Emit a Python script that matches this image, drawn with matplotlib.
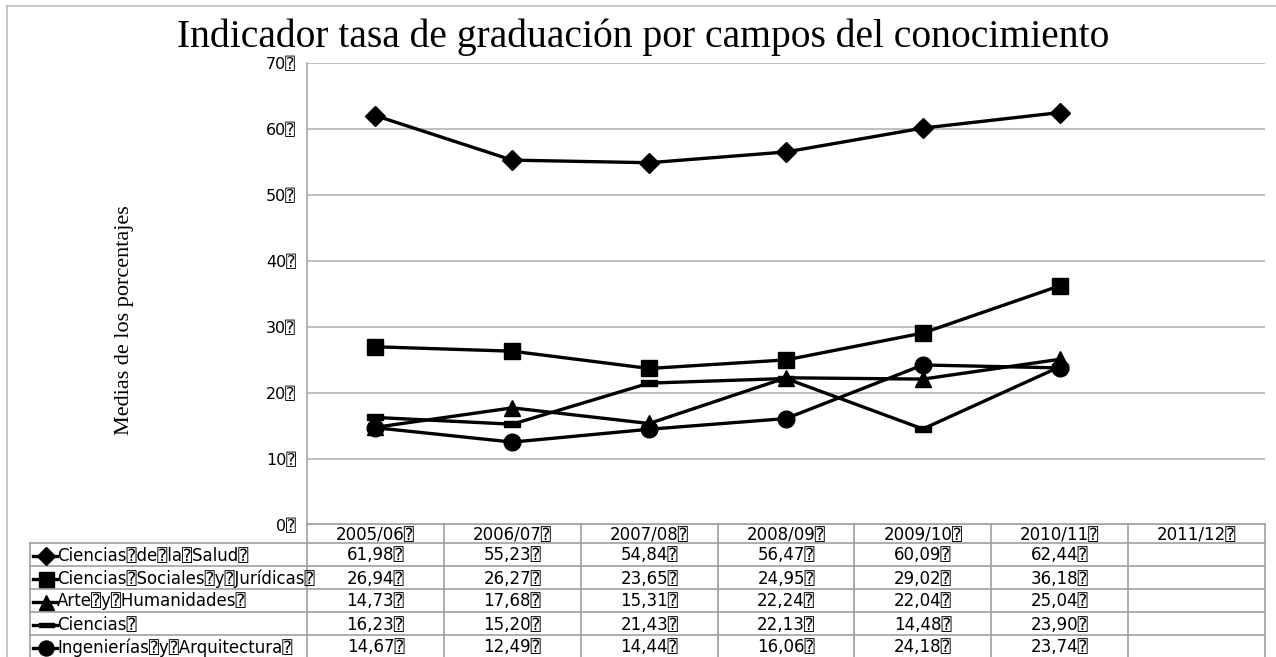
import numpy as np
import matplotlib
matplotlib.use("Agg")
import matplotlib.pyplot as plt
from matplotlib.lines import Line2D

W, H = 1276, 657
B = "\u2370"
SANS = ["DejaVu Sans", "DejaVu Sans Mono", "Noto Sans", "Noto Sans CJK SC"]

categories = ["2005/06", "2006/07", "2007/08", "2008/09", "2009/10", "2010/11", "2011/12"]
series_names = ["Ciencias de la Salud", "Ciencias Sociales y Jurídicas",
                "Arte y Humanidades", "Ciencias", "Ingenierías y Arquitectura"]
salud = [61.98, 55.23, 54.84, 56.47, 60.09, 62.44, np.nan]
sociales = [26.94, 26.27, 23.65, 24.95, 29.02, 36.18, np.nan]
arte = [14.73, 17.68, 15.31, 22.24, 22.04, 25.04, np.nan]
ciencias = [16.23, 15.20, 21.43, 22.13, 14.48, 23.90, np.nan]
ingenierias = [14.67, 12.49, 14.44, 16.06, 24.18, 23.74, np.nan]
yticks = [0, 10, 20, 30, 40, 50, 60, 70]

series = [salud, sociales, arte, ciencias, ingenierias]
dash = [(-1, -0.32), (1, -0.32), (1, 0.32), (-1, 0.32), (-1, -0.32)]
markers = [("D", 10), ("s", 12), ("^", 12), (dash, 12), ("o", 12)]

fig = plt.figure(figsize=(W / 100, H / 100), dpi=100)

def fx(px):
    return px / W

def fy(py):
    return 1 - py / H

ax_l, ax_r, ax_t, ax_b = 307, 1265, 62.7, 524.5
ax = fig.add_axes([fx(ax_l), fy(ax_b), fx(ax_r) - fx(ax_l), fy(ax_t) - fy(ax_b)])
ax.set_xlim(0, len(categories))
ax.set_ylim(0, 70)
ax.set_yticks(yticks)
ax.set_yticklabels([f"{t}{B}" for t in yticks], fontsize=11.5, family=SANS)
ax.tick_params(axis="y", length=0, pad=8)
ax.set_xticks([])
for s in ["top", "right", "bottom"]:
    ax.spines[s].set_visible(False)
ax.spines["left"].set_color("#a8a8a8")
ax.spines["left"].set_linewidth(1.2)
ax.yaxis.grid(True, color="#b4b4b4", linewidth=1.2)
ax.set_axisbelow(True)

x = np.arange(len(categories)) + 0.5
for vals, (m, ms) in zip(series, markers):
    ax.plot(x, vals, color="black", linewidth=2.4, marker=m, markersize=ms,
            markerfacecolor="black", markeredgecolor="black", clip_on=False)

# Title and y label
fig.text(fx(643), fy(37), "Indicador tasa de graduación por campos del conocimiento",
         ha="center", va="center", fontsize=28.5, family="Liberation Serif")
fig.text(fx(125), fy(320), "Medias de los porcentajes", rotation=90,
         ha="center", va="center", fontsize=16, family="Liberation Serif")

# Outer frame
fc = "#bcbcbc"
fig.add_artist(Line2D([fx(7), 1], [fy(6), fy(6)], color=fc, lw=1.2))
fig.add_artist(Line2D([fx(7), fx(7)], [fy(6), 0], color=fc, lw=1.2))

# Data table
tc = "#a0a0a0"
ncol = len(categories)
colw = (ax_r - ax_l) / ncol
col_edges = [ax_l + i * colw for i in range(ncol + 1)]
row_edges = [524, 543, 566, 589, 612, 635, 658]
lab_l = 30

fig.add_artist(Line2D([fx(ax_l), fx(ax_r)], [fy(row_edges[0])] * 2, color=tc, lw=1.2))
for ry in row_edges[1:]:
    fig.add_artist(Line2D([fx(lab_l), fx(ax_r)], [fy(ry)] * 2, color=tc, lw=1.2))
for cx in col_edges:
    fig.add_artist(Line2D([fx(cx)] * 2, [fy(row_edges[0]), 0], color=tc, lw=1.2))
fig.add_artist(Line2D([fx(lab_l)] * 2, [fy(row_edges[1]), 0], color=tc, lw=1.2))

for i, c in enumerate(categories):
    cxm = (col_edges[i] + col_edges[i + 1]) / 2
    fig.text(fx(cxm), fy((row_edges[0] + row_edges[1]) / 2 + 2), c + B,
             ha="center", va="center", fontsize=12, family=SANS)

for r, (name, vals, (m, ms)) in enumerate(zip(series_names, series, markers)):
    cy = (row_edges[r + 1] + row_edges[r + 2]) / 2 + 1
    fig.add_artist(Line2D([fx(33), fx(57)], [fy(cy)] * 2, color="black", lw=2.4))
    fig.add_artist(Line2D([fx(46)], [fy(cy)], marker=m, markersize=ms * 0.9,
                          color="black", markerfacecolor="black"))
    fig.text(fx(57), fy(cy), name.replace(" ", B) + B, ha="left", va="center",
             fontsize=12, family=SANS)
    for i, v in enumerate(vals):
        if np.isnan(v):
            continue
        cxm = (col_edges[i] + col_edges[i + 1]) / 2
        fig.text(fx(cxm), fy(cy), f"{v:.2f}".replace(".", ",") + B,
                 ha="center", va="center", fontsize=12, family=SANS)

fig.savefig("out.png", dpi=100)
